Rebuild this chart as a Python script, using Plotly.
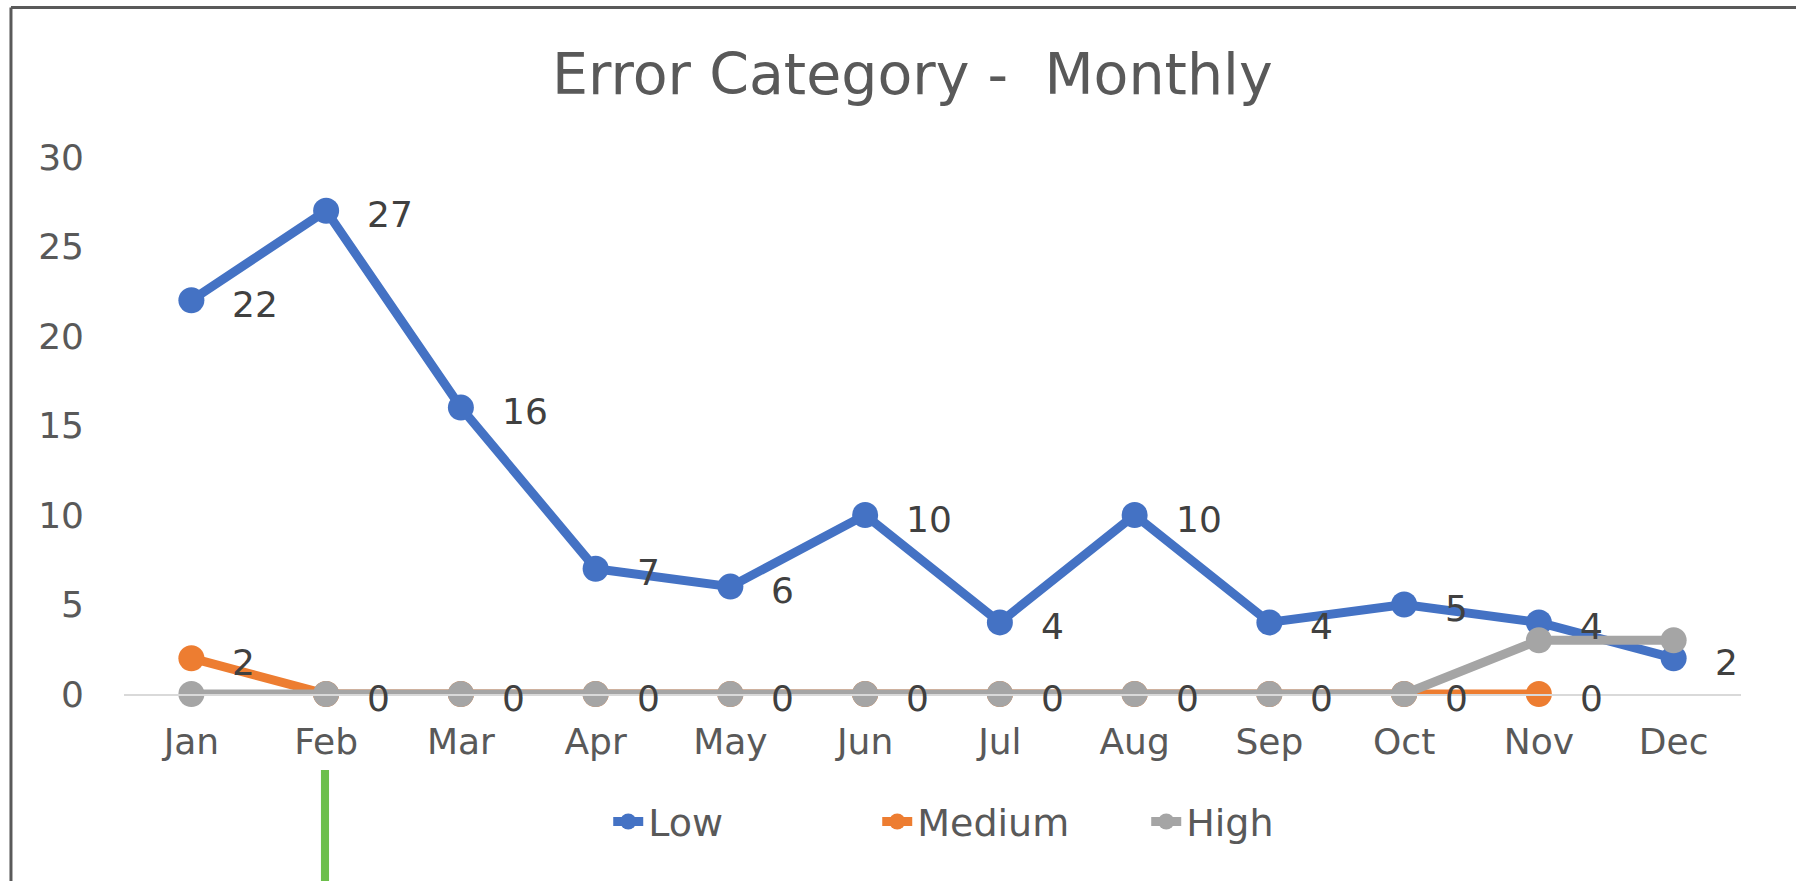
import plotly.graph_objects as go

months = ["Jan", "Feb", "Mar", "Apr", "May", "Jun", "Jul", "Aug", "Sep", "Oct", "Nov", "Dec"]
low = [22, 27, 16, 7, 6, 10, 4, 10, 4, 5, 4, 2]
medium = [2, 0, 0, 0, 0, 0, 0, 0, 0, 0, 0, None]
high = [0, 0, 0, 0, 0, 0, 0, 0, 0, 0, 3, 3]
y_ticks = [0, 5, 10, 15, 20, 25, 30]

FONT = "DejaVu Sans, Open Sans, sans-serif"
TICK_COLOR = "#595959"
LABEL_COLOR = "#404040"

series = [
    ("Low", low, "#4472C4", True),
    ("Medium", medium, "#ED7D31", True),
    ("High", high, "#A5A5A5", False),
]

fig = go.Figure()
annotations = []
for name, vals, color, labelled in series:
    fig.add_trace(go.Scatter(
        x=months, y=vals, name=name, mode="lines+markers",
        line=dict(color=color, width=9),
        marker=dict(color=color, size=26),
        cliponaxis=False, connectgaps=False,
    ))
    if labelled:
        for m, v in zip(months, vals):
            if v is None:
                continue
            annotations.append(dict(
                x=m, y=v, xref="x", yref="y", text=str(v), showarrow=False,
                xanchor="left", yanchor="middle", xshift=39, yshift=-4,
                font=dict(family=FONT, size=36, color=LABEL_COLOR),
            ))

shapes = [
    # outer frame (left and top edges of the chart box)
    dict(type="line", xref="paper", yref="paper", x0=-0.0699, x1=-0.0699, y0=-0.36, y1=1.2784,
         line=dict(color="#5a5a5a", width=3)),
    dict(type="line", xref="paper", yref="paper", x0=-0.0699, x1=1.05, y0=1.2784, y1=1.2784,
         line=dict(color="#5a5a5a", width=3)),
    # green marker bar below the axis
    dict(type="rect", xref="paper", yref="paper", x0=0.1218, x1=0.1268, y0=-0.36, y1=-0.1415,
         line=dict(width=0), fillcolor="#6CBF4A"),
]

fig.update_layout(
    width=1796, height=881,
    margin=dict(l=124, r=55, t=157, b=187),
    paper_bgcolor="white", plot_bgcolor="white",
    font=dict(family=FONT, size=36, color=TICK_COLOR),
    title=dict(text="Error Category -  Monthly", x=0.508, xanchor="center",
               y=0.9154, yanchor="middle", xref="container", yref="container",
               font=dict(family=FONT, size=57, color=TICK_COLOR)),
    xaxis=dict(type="category", range=[-0.5, 11.5], showgrid=False, zeroline=False,
               showline=True, linecolor="#D9D9D9", linewidth=2, ticks="",
               ticklabelstandoff=15, tickfont=dict(size=36, color=TICK_COLOR)),
    yaxis=dict(range=[0, 30], tickvals=y_ticks, showgrid=False, zeroline=False,
               showline=False, ticks="", ticklabelstandoff=39,
               tickfont=dict(size=36, color=TICK_COLOR)),
    legend=dict(orientation="h", x=0.549, xanchor="center", y=-0.238, yanchor="middle",
                font=dict(family=FONT, size=38, color=TICK_COLOR),
                entrywidth=224, entrywidthmode="pixels",
                traceorder="normal"),
    annotations=annotations,
    shapes=shapes,
)

fig.write_html("out.html", config={"displayModeBar": False},
               post_script="document.body.style.margin='0';document.body.style.overflow='hidden';")
